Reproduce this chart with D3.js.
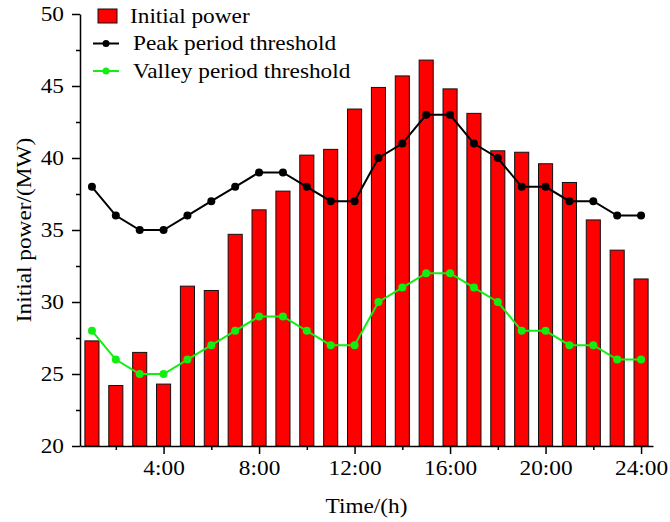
<!DOCTYPE html>
<html><head><meta charset="utf-8">
<script src="https://cdn.jsdelivr.net/npm/d3@7"></script>
<style>body{margin:0;background:#fff}svg{display:block}text{font-family:"Liberation Serif","Times New Roman",serif;fill:#000}</style>
</head><body>
<svg id="c" width="670" height="522"></svg>
<script>
const hours = d3.range(1, 25);
const initialPower = [27.3,24.2,26.5,24.3,31.1,30.8,34.7,36.4,37.7,40.2,40.6,43.4,44.9,45.7,46.8,44.8,43.1,40.5,40.4,39.6,38.3,35.7,33.6,31.6];
const peakThreshold = [38,36,35,35,36,37,38,39,39,38,37,37,40,41,43,43,41,40,38,38,37,37,36,36];
const valleyThreshold = [28,26,25,25,26,27,28,29,29,28,27,27,30,31,32,32,31,30,28,28,27,27,26,26];
const xTickValues = [4,8,12,16,20,24];
const xTickLabels = ["4:00","8:00","12:00","16:00","20:00","24:00"];
const xMinorTicks = [2,6,10,14,18,22];
const yTickValues = [20,25,30,35,40,45,50];
const yMinorTicks = [22.5,27.5,32.5,37.5,42.5,47.5];
const seriesNames = ["Initial power","Peak period threshold","Valley period threshold"];
const colors = {bar:"#ff0000", peak:"#000000", valley:"#11ee11"};

const FS = 21, SX = 1.11;
const svg = d3.select("#c");
const L = 80, R = 653, T = 14, B = 446;
const x = d3.scaleLinear().domain([0.5, 24.5]).range([L, R]);
const y = d3.scaleLinear().domain([20, 50]).range([B, T]);
const bw = (x(2) - x(1)) * 0.59;

function stretch(sel) {
  sel.each(function() {
    const t = d3.select(this);
    const tx = +t.attr("x") || 0;
    t.attr("transform", (t.attr("transform") || "") + ` translate(${tx},0) scale(${SX},1) translate(${-tx},0)`);
  });
}

// bars
svg.append("g").selectAll("rect").data(hours).join("rect")
  .attr("x", d => x(d) - bw/2)
  .attr("y", (d,i) => y(initialPower[i]))
  .attr("width", bw)
  .attr("height", (d,i) => y(20) - y(initialPower[i]))
  .attr("fill", colors.bar)
  .attr("stroke", "#111").attr("stroke-width", 1);

function drawLine(vals, col) {
  const g = svg.append("g");
  g.append("path").datum(vals)
    .attr("d", d3.line().x((d,i) => x(hours[i])).y(d => y(d)))
    .attr("fill","none").attr("stroke", col).attr("stroke-width", 2);
  g.selectAll("circle").data(vals).join("circle")
    .attr("cx", (d,i) => x(hours[i])).attr("cy", d => y(d)).attr("r", 4)
    .attr("fill", col);
}
drawLine(peakThreshold, colors.peak);
drawLine(valleyThreshold, colors.valley);

// x axis
const xa = svg.append("g").attr("transform", `translate(0,${B})`)
  .call(d3.axisBottom(x).tickValues(xTickValues).tickFormat((d,i) => xTickLabels[i]).tickSize(8).tickPadding(6).tickSizeOuter(0));
xa.attr("font-family", null);
xa.selectAll("text").attr("font-size", FS).style("font-family", '"Liberation Serif",serif').call(stretch);
xa.select(".domain").attr("stroke-width", 1.5);
xa.selectAll(".tick line").attr("stroke-width", 1.5);
svg.append("g").attr("transform", `translate(0,${B})`)
  .call(d3.axisBottom(x).tickValues(xMinorTicks).tickFormat("").tickSize(4).tickSizeOuter(0))
  .call(g => g.select(".domain").remove())
  .selectAll("line").attr("stroke-width", 1.5);

// y axis
const ya = svg.append("g").attr("transform", `translate(${L},0)`)
  .call(d3.axisLeft(y).tickValues(yTickValues).tickSize(8).tickPadding(8).tickSizeOuter(0));
ya.attr("font-family", null);
ya.selectAll("text").attr("font-size", FS).style("font-family", '"Liberation Serif",serif').call(stretch);
ya.select(".domain").attr("stroke-width", 1.5);
ya.selectAll(".tick line").attr("stroke-width", 1.5);
svg.append("g").attr("transform", `translate(${L},0)`)
  .call(d3.axisLeft(y).tickValues(yMinorTicks).tickFormat("").tickSize(4).tickSizeOuter(0))
  .call(g => g.select(".domain").remove())
  .selectAll("line").attr("stroke-width", 1.5);

// titles
svg.append("text").attr("x", (L + R)/2 - 0).attr("y", 513).attr("text-anchor","middle")
  .attr("font-size", FS).text("Time/(h)").call(stretch);
svg.append("text").attr("transform", `translate(31,${(T+B)/2}) rotate(-90)`).attr("text-anchor","middle")
  .attr("font-size", FS).text("Initial power/(MW)").call(stretch);

// legend
const lg = svg.append("g");
lg.append("rect").attr("x", 98).attr("y", 9).attr("width", 19).attr("height", 14)
  .attr("fill", colors.bar).attr("stroke", "#111").attr("stroke-width", 1);
lg.append("text").attr("x", 130).attr("y", 23).attr("font-size", FS).text(seriesNames[0]).call(stretch);
[[colors.peak, 43.5, seriesNames[1]], [colors.valley, 71, seriesNames[2]]].forEach(([c, cy, t]) => {
  lg.append("line").attr("x1", 93).attr("x2", 119).attr("y1", cy).attr("y2", cy).attr("stroke", c).attr("stroke-width", 2);
  lg.append("circle").attr("cx", 106).attr("cy", cy).attr("r", 3.5).attr("fill", c);
  lg.append("text").attr("x", 133).attr("y", cy + 7).attr("font-size", FS).text(t).call(stretch);
});
</script>
</body></html>
